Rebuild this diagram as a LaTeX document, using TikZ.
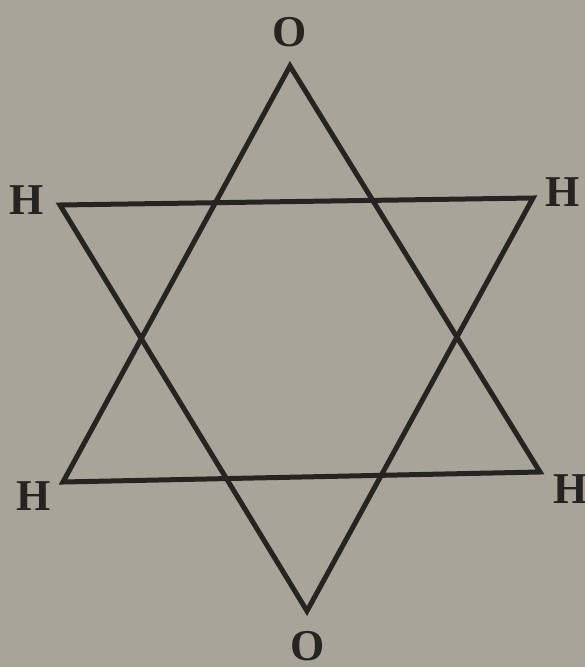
\documentclass[tikz,border=0pt]{standalone}
\usepackage{fontspec}
\setmainfont{Liberation Serif}
\definecolor{paper}{RGB}{168,164,154}
\definecolor{ink}{RGB}{38,36,33}
\begin{document}
\begin{tikzpicture}[x=1pt,y=-1pt,
  edge/.style={draw=ink,line width=5pt,line join=miter},
  atom/.style={text=ink,font=\fontsize{44}{44}\selectfont\bfseries,inner sep=0pt}]
\fill[paper] (0,0) rectangle (585,667);
\useasboundingbox (0,0) rectangle (585,667);
\coordinate (T) at (290,66);
\coordinate (LL) at (63,482);
\coordinate (LR) at (540,472);
\coordinate (B) at (307,611);
\coordinate (UL) at (60,205);
\coordinate (UR) at (533,198);
\draw[edge] (T) -- (LL) -- (LR) -- cycle;
\draw[edge] (B) -- (UL) -- (UR) -- cycle;
\node[atom] (o1) at (290,32) {O};
\node[atom] (o2) at (308,646) {O};
\node[atom] (h1) at (27,200) {H};
\node[atom] (h2) at (563,192) {H};
\node[atom] (h3) at (34,496) {H};
\node[atom] (h4) at (571,489) {H};
\end{tikzpicture}
\end{document}
